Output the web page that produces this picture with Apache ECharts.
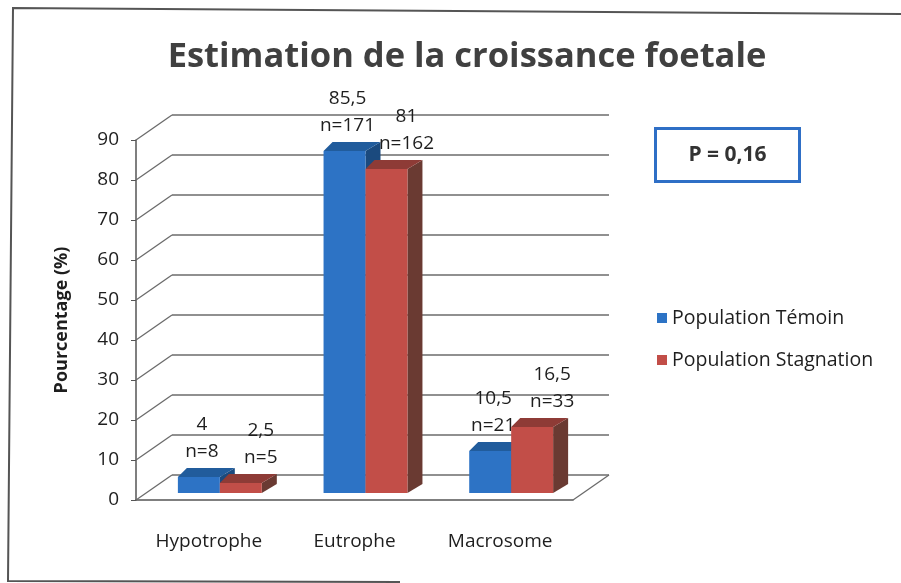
<!DOCTYPE html>
<html>
<head>
<meta charset="utf-8">
<script src="https://cdn.jsdelivr.net/npm/echarts@6/dist/echarts.min.js"></script>
<style>html,body{margin:0;padding:0;background:#fff}#c{width:901px;height:583px}</style>
</head>
<body>
<div id="c"></div>
<script>
// ---- data ----
const categories = ['Hypotrophe', 'Eutrophe', 'Macrosome'];
const seriesNames = ['Population Témoin', 'Population Stagnation'];
const temoinValues = [4, 85.5, 10.5];
const stagnationValues = [2.5, 81, 16.5];
const temoinCounts = [8, 171, 21];
const stagnationCounts = [5, 162, 33];
const yTicks = [0, 10, 20, 30, 40, 50, 60, 70, 80, 90];
const titleText = 'Estimation de la croissance foetale';
const pValueText = 'P = 0,16';
const yAxisName = 'Pourcentage (%)';

// ---- style ----
const FONT = 'Open Sans';
const FRONT = {left: 136, top: 140, width: 437, height: 360};
const DEPTH = {x: 36, y: -25};
const BAR_SHIFT = {x: 11, y: -7};
const BAR_DEPTH = {xr: 15, xl: 9, y: -9};
const colors = [
  {front: '#2d73c5', top: '#215c9c', side: '#1b4a7e'},
  {front: '#c24e48', top: '#8e3b36', side: '#6a3a32'}
];
const labelDx = [3, 20];
const gridColor = '#6b6b6b';
const textColor = '#1e1e1e';

function fmt(v) { return String(v).replace('.', ','); }

function barRender(sIdx, counts) {
  return function (params, api) {
    const i = api.value(0), v = api.value(1);
    const top = api.coord([i, v]);
    const base = api.coord([i, 0]);
    const band = api.size([1, 0])[0];
    const w = band * 0.288;
    const x0 = top[0] + BAR_SHIFT.x - w + sIdx * w;
    const x1 = x0 + w;
    const yt = top[1] + BAR_SHIFT.y;
    const yb = base[1] + BAR_SHIFT.y;
    const c = colors[sIdx];
    return {
      type: 'group',
      children: [
        {type: 'polygon', shape: {points: [[x1, yt], [x1 + BAR_DEPTH.xr, yt + BAR_DEPTH.y], [x1 + BAR_DEPTH.xr, yb + BAR_DEPTH.y], [x1, yb]]}, style: {fill: c.side}},
        {type: 'polygon', shape: {points: [[x0, yt], [x1, yt], [x1 + BAR_DEPTH.xr, yt + BAR_DEPTH.y], [x0 + BAR_DEPTH.xl, yt + BAR_DEPTH.y]]}, style: {fill: c.top}},
        {type: 'rect', shape: {x: x0, y: yt, width: w, height: yb - yt}, style: {fill: c.front}},
        {type: 'text', style: {
          text: fmt(v) + '\nn=' + counts[i],
          x: (x0 + x1) / 2 + labelDx[sIdx], y: yt + BAR_DEPTH.y - 3,
          textAlign: 'center', textVerticalAlign: 'bottom',
          font: '19px "' + FONT + '"', fill: textColor, lineHeight: 27
        }}
      ]
    };
  };
}

const chart = echarts.init(document.getElementById('c'), null, {renderer: 'canvas'});
chart.setOption({
  backgroundColor: '#ffffff',
  animation: false,
  title: {
    text: titleText, left: 462, top: 35, textAlign: 'center',
    textStyle: {fontFamily: FONT, fontWeight: 'bold', fontSize: 34.5, color: '#404040'}
  },
  legend: {
    orient: 'vertical', left: 652, top: 303, itemWidth: 10, itemHeight: 10, itemGap: 22,
    icon: 'rect', data: seriesNames,
    textStyle: {fontFamily: FONT, fontSize: 19.5, color: textColor}
  },
  grid: [
    {left: FRONT.left, top: FRONT.top, width: FRONT.width, height: FRONT.height},
    {left: FRONT.left + DEPTH.x, top: FRONT.top + DEPTH.y, width: FRONT.width, height: FRONT.height}
  ],
  xAxis: [
    {type: 'category', gridIndex: 0, data: categories,
     axisLine: {show: true, lineStyle: {color: '#555', width: 1.5}},
     axisTick: {show: false},
     axisLabel: {margin: 32, fontFamily: FONT, fontSize: 19, color: textColor}},
    {type: 'category', gridIndex: 1, data: categories, show: false}
  ],
  yAxis: [
    {type: 'value', gridIndex: 0, min: 0, max: 90, interval: 10,
     name: yAxisName, nameLocation: 'middle', nameRotate: 90, nameGap: 65,
     nameTextStyle: {fontFamily: FONT, fontWeight: 'bold', fontSize: 18, color: textColor},
     axisLine: {show: true, lineStyle: {color: '#555', width: 1.5}},
     axisTick: {show: true, length: 5, lineStyle: {color: '#555'}},
     axisLabel: {margin: 17, fontFamily: FONT, fontSize: 19, color: textColor},
     splitLine: {show: false}},
    {type: 'value', gridIndex: 1, min: 0, max: 90, interval: 10,
     axisLine: {show: false}, axisTick: {show: false}, axisLabel: {show: false},
     splitLine: {show: true, lineStyle: {color: gridColor, width: 1.5}}}
  ],
  series: [
    {
      type: 'custom', name: '_walls', xAxisIndex: 0, yAxisIndex: 0, silent: true,
      data: yTicks.map(t => [0, t]),
      renderItem: function (params, api) {
        const cs = params.coordSys;
        const p = api.coord([0, api.value(1)]);
        const children = [{type: 'line', shape: {x1: cs.x, y1: p[1], x2: cs.x + DEPTH.x, y2: p[1] + DEPTH.y}, style: {stroke: gridColor, lineWidth: 1.3}}];
        if (api.value(1) === 0) {
          children.push({type: 'line', shape: {x1: cs.x + cs.width, y1: p[1], x2: cs.x + cs.width + DEPTH.x, y2: p[1] + DEPTH.y}, style: {stroke: gridColor, lineWidth: 1.3}});
        }
        return {type: 'group', children: children};
      },
      z: 1
    },
    {
      type: 'custom', name: seriesNames[0], xAxisIndex: 0, yAxisIndex: 0,
      itemStyle: {color: '#2d73c5'},
      data: temoinValues.map((v, i) => [i, v]),
      renderItem: barRender(0, temoinCounts), z: 3
    },
    {
      type: 'custom', name: seriesNames[1], xAxisIndex: 0, yAxisIndex: 0,
      itemStyle: {color: '#c24e48'},
      data: stagnationValues.map((v, i) => [i, v]),
      renderItem: barRender(1, stagnationCounts), z: 4
    }
  ],
  graphic: [
    {type: 'polyline', shape: {points: [[901, 14], [13, 8], [8, 581], [400, 582]]}, style: {stroke: '#555', lineWidth: 2, fill: null}},
    {type: 'group', left: 654, top: 127, children: [
      {type: 'rect', shape: {x: 0, y: 0, width: 144, height: 53}, style: {fill: '#fff', stroke: '#2f6fc6', lineWidth: 3}},
      {type: 'text', style: {text: pValueText, x: 72, y: 27, textAlign: 'center', textVerticalAlign: 'middle', font: 'bold 21px "' + FONT + '"', fill: '#333'}}
    ]}
  ]
});
</script>
</body>
</html>
